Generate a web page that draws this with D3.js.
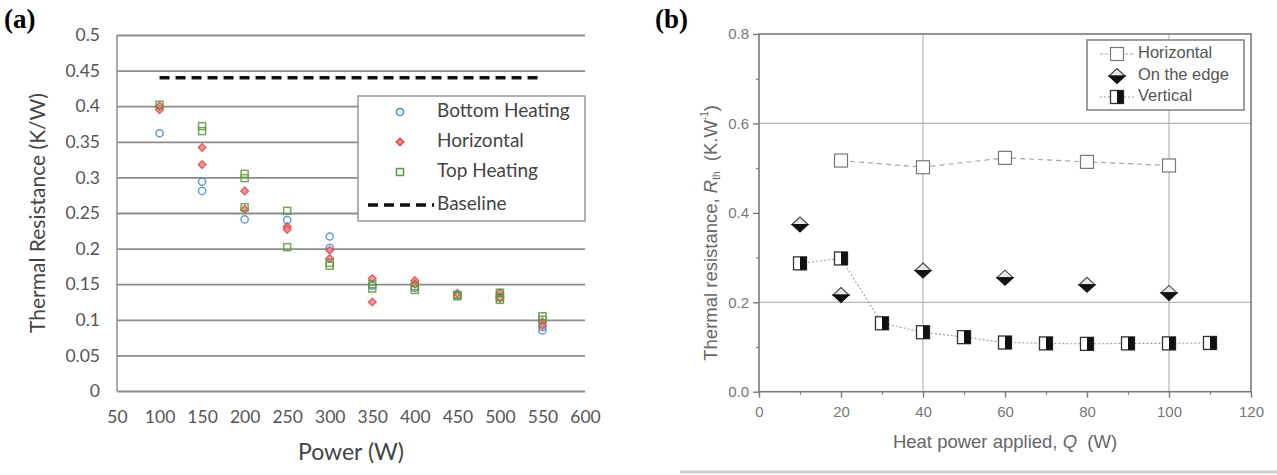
<!DOCTYPE html>
<html>
<head>
<meta charset="utf-8">
<script src="https://cdn.jsdelivr.net/npm/d3@7"></script>
<style>
  body { margin: 0; background: #fff; }
  svg { display: block; }
  .tickA text { font-family: Lato, 'Open Sans', sans-serif; font-size: 17.5px; fill: #555; }
  .tickB text { font-family: 'Liberation Sans', Arial, sans-serif; font-size: 15px; fill: #777; }
</style>
</head>
<body>
<svg id="chart" width="1277" height="475"></svg>
<script>
'use strict';
// ---- panel (a) data: [power W, thermal resistance K/W] ----
const powerTicksA = [50, 100, 150, 200, 250, 300, 350, 400, 450, 500, 550, 600]
const resTicksA = [0, 0.05, 0.1, 0.15, 0.2, 0.25, 0.3, 0.35, 0.4, 0.45, 0.5]
const bottomHeating = [[100, 0.362], [150, 0.294], [150, 0.281], [200, 0.241], [250, 0.240],
    [300, 0.217], [300, 0.201], [350, 0.148], [400, 0.145], [450, 0.135], [500, 0.132],
    [550, 0.090], [550, 0.085]]
const horizontalA = [[100, 0.395], [100, 0.400], [150, 0.342], [150, 0.318], [200, 0.281],
    [200, 0.255], [250, 0.231], [250, 0.227], [300, 0.198], [300, 0.186], [350, 0.158],
    [350, 0.125], [400, 0.155], [400, 0.150], [450, 0.137], [500, 0.138], [500, 0.130],
    [550, 0.097], [550, 0.092]]
const topHeating = [[100, 0.402], [150, 0.372], [150, 0.365], [200, 0.305], [200, 0.299],
    [200, 0.258], [250, 0.253], [250, 0.202], [300, 0.180], [300, 0.176], [350, 0.150],
    [350, 0.144], [400, 0.147], [400, 0.142], [450, 0.135], [450, 0.133], [500, 0.138],
    [500, 0.132], [500, 0.128], [550, 0.105], [550, 0.100]]
const baselinePower = [100, 550]
const baselineValue = 0.44

// ---- panel (b) data ----
const heatTicksB = [0, 20, 40, 60, 80, 100, 120]
const resTicksB = [0, 0.2, 0.4, 0.6, 0.8]
const horizQ = [20, 40, 60, 80, 100]
const horizR = [0.517, 0.502, 0.523, 0.514, 0.506]
const edgeQ = [10, 20, 40, 60, 80, 100]
const edgeR = [0.374, 0.216, 0.271, 0.255, 0.239, 0.221]
const vertQ = [10, 20, 30, 40, 50, 60, 70, 80, 90, 100, 110]
const vertR = [0.287, 0.298, 0.153, 0.133, 0.122, 0.110, 0.108, 0.107, 0.108, 0.108, 0.109]

const svg = d3.select('#chart')
const blue = '#4a8ad0', red = '#e04848', green = '#5b9a3c'
const fontA = "Lato, 'Open Sans', sans-serif"
const fontB = "'Liberation Sans', Arial, sans-serif"

// ================= panel (a) =================
const xA = d3.scaleLinear().domain([50, 600]).range([117, 585])
const yA = d3.scaleLinear().domain([0, 0.5]).range([391, 35])
const gA = svg.append('g')

gA.append('g') // horizontal gridlines
    .attr('transform', `translate(${xA(50)},0)`)
    .call(d3.axisLeft(yA).tickValues(resTicksA).tickSize(-(xA(600) - xA(50))).tickFormat(''))
    .call(g => g.select('.domain').remove())
    .call(g => g.selectAll('line').attr('stroke', '#8c8c8c').attr('stroke-width', 1.8))
gA.append('line') // y axis line
    .attr('x1', xA(50)).attr('x2', xA(50)).attr('y1', yA(0.5)).attr('y2', yA(0))
    .attr('stroke', '#8c8c8c').attr('stroke-width', 1.5)
gA.append('g')
    .attr('class', 'tickA')
    .attr('transform', `translate(${xA(50)},0)`)
    .call(d3.axisLeft(yA).tickValues(resTicksA).tickSize(0).tickPadding(17).tickFormat(d => d3.format('~g')(d)))
    .call(g => g.select('.domain').remove())
gA.append('g')
    .attr('class', 'tickA')
    .attr('transform', `translate(0,${yA(0)})`)
    .call(d3.axisBottom(xA).tickValues(powerTicksA).tickSize(0).tickPadding(20))
    .call(g => g.select('.domain').remove())

gA.append('text') // y title
    .attr('transform', `translate(40,${yA(0.25)}) rotate(-90)`)
    .attr('text-anchor', 'middle').attr('dominant-baseline', 'middle')
    .style('font-family', fontA).style('font-size', '21px').attr('fill', '#444')
    .text('Thermal Resistance (K/W)')
gA.append('text') // x title
    .attr('x', xA(325)).attr('y', 454)
    .attr('text-anchor', 'middle').attr('dominant-baseline', 'middle')
    .style('font-family', fontA).style('font-size', '23px').attr('fill', '#444')
    .text('Power (W)')

gA.append('line') // Baseline
    .attr('x1', xA(baselinePower[0])).attr('x2', xA(baselinePower[1]))
    .attr('y1', yA(baselineValue)).attr('y2', yA(baselineValue))
    .attr('stroke', '#111').attr('stroke-width', 3.5).attr('stroke-dasharray', '10,6')

const diamondA = 'M0,-3.8L3.8,0L0,3.8L-3.8,0Z'
function drawCircles(g, data) {
    g.selectAll(null).data(data).enter().append('circle')
        .attr('cx', d => xA(d[0])).attr('cy', d => yA(d[1])).attr('r', 3.6)
        .attr('fill', 'none').attr('stroke', blue).attr('stroke-width', 1.5).attr('opacity', 0.85)
}
function drawDiamonds(g, data) {
    g.selectAll(null).data(data).enter().append('path')
        .attr('d', diamondA)
        .attr('transform', d => `translate(${xA(d[0])},${yA(d[1])})`)
        .attr('fill', '#f08a8a').attr('stroke', red).attr('stroke-width', 1.5).attr('opacity', 0.85)
}
function drawSquares(g, data) {
    g.selectAll(null).data(data).enter().append('rect')
        .attr('x', d => xA(d[0]) - 3.5).attr('y', d => yA(d[1]) - 3.5)
        .attr('width', 7).attr('height', 7)
        .attr('fill', 'none').attr('stroke', green).attr('stroke-width', 1.5).attr('opacity', 0.85)
}
drawCircles(gA.append('g'), bottomHeating)
drawDiamonds(gA.append('g'), horizontalA)
drawSquares(gA.append('g'), topHeating)

// legend (a)
const legA = gA.append('g')
legA.append('rect').attr('x', 358).attr('y', 96).attr('width', 227).attr('height', 125)
    .attr('fill', '#fff').attr('stroke', '#999').attr('stroke-width', 1.5)
const legAItems = ['Bottom Heating', 'Horizontal', 'Top Heating', 'Baseline']
const legARows = [112, 142, 172, 205]
legAItems.forEach((t, i) => {
    legA.append('text').attr('x', 437).attr('y', legARows[i])
        .attr('dominant-baseline', 'middle')
        .style('font-family', fontA).style('font-size', '19px').attr('fill', '#444')
        .text(t)
})
legA.append('circle').attr('cx', 400).attr('cy', legARows[0]).attr('r', 3.6)
    .attr('fill', 'none').attr('stroke', blue).attr('stroke-width', 1.5)
legA.append('path').attr('d', diamondA)
    .attr('transform', `translate(400,${legARows[1]})`)
    .attr('fill', '#f08a8a').attr('stroke', red).attr('stroke-width', 1.5)
legA.append('rect').attr('x', 396.5).attr('y', legARows[2] - 3.5).attr('width', 7).attr('height', 7)
    .attr('fill', 'none').attr('stroke', green).attr('stroke-width', 1.5)
legA.append('line').attr('x1', 368).attr('x2', 434).attr('y1', legARows[3]).attr('y2', legARows[3])
    .attr('stroke', '#111').attr('stroke-width', 3.5).attr('stroke-dasharray', '10,6')

svg.append('text').attr('x', 4).attr('y', 28)
    .style('font-family', "'Liberation Serif', 'DejaVu Serif', serif").style('font-size', '27px')
    .style('font-weight', 'bold').text('(a)')

// ================= panel (b) =================
const xB = d3.scaleLinear().domain([0, 120]).range([759, 1251])
const yB = d3.scaleLinear().domain([0, 0.8]).range([391.7, 34])
const gB = svg.append('g')

// gridlines
gB.append('g').selectAll(null).data([0.2, 0.6]).enter().append('line')
    .attr('x1', xB(0)).attr('x2', xB(120)).attr('y1', d => yB(d)).attr('y2', d => yB(d))
    .attr('stroke', '#b5b5b5').attr('stroke-width', 1.2)
gB.append('g').selectAll(null).data([40, 100]).enter().append('line')
    .attr('y1', yB(0)).attr('y2', yB(0.8)).attr('x1', d => xB(d)).attr('x2', d => xB(d))
    .attr('stroke', '#b5b5b5').attr('stroke-width', 1.2)

// frame
gB.append('rect').attr('x', xB(0)).attr('y', yB(0.8))
    .attr('width', xB(120) - xB(0)).attr('height', yB(0) - yB(0.8))
    .attr('fill', 'none').attr('stroke', '#7a7a7a').attr('stroke-width', 1.6)

// axes
gB.append('g').attr('transform', `translate(${xB(0)},0)`)
    .call(d3.axisLeft(yB).tickValues([0.1, 0.3, 0.5, 0.7]).tickSize(3).tickFormat(''))
    .call(g => g.select('.domain').remove())
    .call(g => g.selectAll('line').attr('stroke', '#7a7a7a').attr('stroke-width', 1.2))
gB.append('g').attr('class', 'tickB').attr('transform', `translate(${xB(0)},0)`)
    .call(d3.axisLeft(yB).tickValues(resTicksB).tickSize(6).tickPadding(4).tickFormat(d3.format('.1f')))
    .call(g => g.select('.domain').remove())
    .call(g => g.selectAll('line').attr('stroke', '#7a7a7a').attr('stroke-width', 1.4))
gB.append('g').attr('transform', `translate(0,${yB(0)})`)
    .call(d3.axisBottom(xB).tickValues([10, 30, 50, 70, 90, 110]).tickSize(3).tickFormat(''))
    .call(g => g.select('.domain').remove())
    .call(g => g.selectAll('line').attr('stroke', '#7a7a7a').attr('stroke-width', 1.2))
gB.append('g').attr('class', 'tickB').attr('transform', `translate(0,${yB(0)})`)
    .call(d3.axisBottom(xB).tickValues(heatTicksB).tickSize(6).tickPadding(9))
    .call(g => g.select('.domain').remove())
    .call(g => g.selectAll('line').attr('stroke', '#7a7a7a').attr('stroke-width', 1.4))

// titles
const yTitle = gB.append('text')
    .attr('transform', `translate(712,${yB(0.4) + 20}) rotate(-90)`)
    .attr('text-anchor', 'middle').attr('dominant-baseline', 'middle')
    .style('font-family', fontB).style('font-size', '18.5px').attr('fill', '#666')
yTitle.append('tspan').text('Thermal resistance, ')
yTitle.append('tspan').style('font-style', 'italic').text('R')
yTitle.append('tspan').attr('dy', 5).style('font-size', '10px').text('th')
yTitle.append('tspan').attr('dy', -5).text('\u00a0\u00a0(K.W')
yTitle.append('tspan').attr('dy', -7).style('font-size', '10px').text('-1')
yTitle.append('tspan').attr('dy', 7).text(')')

const xTitle = gB.append('text')
    .attr('x', xB(60)).attr('y', 443)
    .attr('text-anchor', 'middle').attr('dominant-baseline', 'middle')
    .style('font-family', fontB).style('font-size', '18.5px').attr('fill', '#666')
xTitle.append('tspan').text('Heat power applied, ')
xTitle.append('tspan').style('font-style', 'italic').text('Q')
xTitle.append('tspan').text('\u00a0\u00a0(W)')

// series lines
const lineB = d3.line().x(d => xB(d[0])).y(d => yB(d[1]))
gB.append('path').datum(d3.zip(horizQ, horizR))
    .attr('fill', 'none').attr('stroke', '#a0a0a0').attr('stroke-width', 1.1)
    .attr('stroke-dasharray', '5,4').attr('d', lineB)
gB.append('path').datum(d3.zip(vertQ, vertR))
    .attr('fill', 'none').attr('stroke', '#a0a0a0').attr('stroke-width', 1.1)
    .attr('stroke-dasharray', '2,2').attr('d', lineB)

// marker makers
function openSquare(g, cx, cy) {
    g.append('rect').attr('x', cx - 6.5).attr('y', cy - 6.5).attr('width', 13).attr('height', 13)
        .attr('fill', '#fff').attr('stroke', '#777').attr('stroke-width', 1.2)
}
function halfSquare(g, cx, cy) {
    g.append('rect').attr('x', cx - 6.5).attr('y', cy - 6.5).attr('width', 13).attr('height', 13)
        .attr('fill', '#fff').attr('stroke', '#333').attr('stroke-width', 1.3)
    g.append('rect').attr('x', cx).attr('y', cy - 6.5).attr('width', 6.5).attr('height', 13).attr('fill', '#111')
}
function halfDiamond(g, cx, cy) {
    g.append('path').attr('d', `M${cx - 8},${cy} L${cx},${cy - 7.5} L${cx + 8},${cy} Z`)
        .attr('fill', '#e8e8e8').attr('stroke', '#444').attr('stroke-width', 1.1)
    g.append('path').attr('d', `M${cx - 8},${cy} L${cx + 8},${cy} L${cx},${cy + 7.5} Z`)
        .attr('fill', '#111').attr('stroke', '#111').attr('stroke-width', 1.1)
}
const mk = gB.append('g')
horizQ.forEach((q, i) => openSquare(mk, xB(q), yB(horizR[i])))
edgeQ.forEach((q, i) => halfDiamond(mk, xB(q), yB(edgeR[i])))
vertQ.forEach((q, i) => halfSquare(mk, xB(q), yB(vertR[i])))

// legend (b)
const legB = gB.append('g')
legB.append('rect').attr('x', 1087).attr('y', 40).attr('width', 157).attr('height', 70)
    .attr('fill', '#fff').attr('stroke', '#777').attr('stroke-width', 1.4)
const legBItems = ['Horizontal', 'On the edge', 'Vertical']
const legBRows = [54, 76, 97]
legBItems.forEach((t, i) => {
    legB.append('text').attr('x', 1138).attr('y', legBRows[i])
        .attr('dominant-baseline', 'middle')
        .style('font-family', fontB).style('font-size', '16.5px').attr('fill', '#555')
        .text(t)
})
legB.append('line').attr('x1', 1100).attr('x2', 1134).attr('y1', legBRows[0]).attr('y2', legBRows[0])
    .attr('stroke', '#a0a0a0').attr('stroke-dasharray', '3,2')
legB.append('line').attr('x1', 1100).attr('x2', 1134).attr('y1', legBRows[2]).attr('y2', legBRows[2])
    .attr('stroke', '#a0a0a0').attr('stroke-dasharray', '2,2')
openSquare(legB, 1117, legBRows[0])
halfDiamond(legB, 1117, legBRows[1])
halfSquare(legB, 1117, legBRows[2])

svg.append('text').attr('x', 655).attr('y', 28)
    .style('font-family', "'Liberation Serif', 'DejaVu Serif', serif").style('font-size', '27px')
    .style('font-weight', 'bold').text('(b)')

svg.append('line').attr('x1', 680).attr('x2', 1277).attr('y1', 472).attr('y2', 472)
    .attr('stroke', '#cfcfcf').attr('stroke-width', 3)
</script>
</body>
</html>
